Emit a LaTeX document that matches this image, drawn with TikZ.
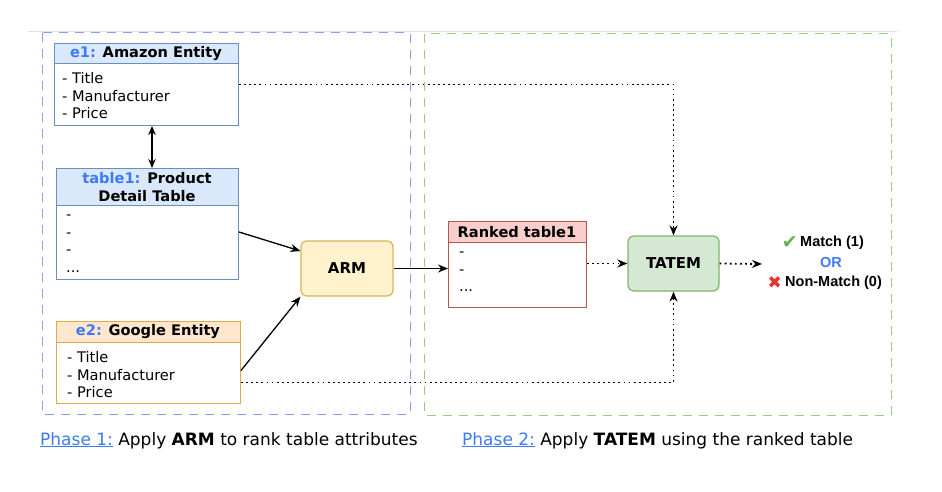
\documentclass[tikz,border=0pt]{standalone}
\usepackage{fontspec}
\setmainfont{DejaVu Sans}
\newfontfamily\arialf{Liberation Sans}
\usetikzlibrary{arrows.meta}
\definecolor{framblue}{HTML}{8C9CF5}
\definecolor{framgreen}{HTML}{97D077}
\definecolor{hblue}{HTML}{DAE8FC}
\definecolor{sblue}{HTML}{6C8EBF}
\definecolor{horange}{HTML}{FFE6CC}
\definecolor{sorange}{HTML}{E0A94A}
\definecolor{hred}{HTML}{F8CECC}
\definecolor{sred}{HTML}{B85450}
\definecolor{hgreen}{HTML}{D5E8D4}
\definecolor{sgreen}{HTML}{82B366}
\definecolor{hyellow}{HTML}{FFF2CC}
\definecolor{syellow}{HTML}{D6B656}
\definecolor{lblue}{HTML}{3D7BF5}
\definecolor{okgreen}{HTML}{6AB04C}
\definecolor{badred}{HTML}{E8312A}
\tikzset{
  frame/.style={line width=1pt, dash pattern=on 9pt off 7pt},
  ebox/.style={draw, line width=1pt, anchor=north west, inner sep=0pt},
  proc/.style={draw, line width=1.2pt, rounded corners=6pt, font=\bfseries\fontsize{15}{17}\selectfont, inner sep=0pt},
  hdr/.style={font=\bfseries\fontsize{14.6}{18}\selectfont, inner sep=0pt, align=center},
  body/.style={font=\fontsize{14.6}{17.7}\selectfont, anchor=north west, inner sep=0pt, align=left},
  arr/.style={line width=1.3pt, -{Stealth[length=10pt,width=8pt]}},
  darr/.style={line width=1.8pt, dash pattern=on 1.8pt off 3.3pt, -{Stealth[length=10pt,width=8pt]}},
  phase/.style={font=\fontsize{17}{20}\selectfont, anchor=base west, inner sep=0pt},
  outt/.style={font=\arialf\bfseries\fontsize{14.5}{17}\selectfont, inner sep=0pt}
}
\begin{document}
\begin{tikzpicture}[x=1pt,y=-1pt]
\useasboundingbox (0,0) rectangle (942,492);
% faint top line
\draw[gray!25, line width=0.8pt] (28,31) -- (897,31);
% frames
\draw[frame, framblue] (42,33) rectangle (410,414);
\draw[frame, framgreen] (424,34) rectangle (891,415);

% e1 box
\fill[hblue] (54,43) rectangle (238,64);
\node[ebox, sblue, minimum width=184pt, minimum height=82pt] (e1) at (54,43) {};
\draw[sblue, line width=1pt] (54,64) -- (238,64);
\node[hdr] (e1h) at (146,54) {\textcolor{lblue}{e1:} Amazon Entity};
\node[body] (e1b) at (62,71) {\strut- Title\\- Manufacturer\\- Price};

% table1 box
\fill[hblue] (56,168) rectangle (238,205);
\node[ebox, sblue, minimum width=182pt, minimum height=111pt] (t1) at (56,168) {};
\draw[sblue, line width=1pt] (56,205) -- (238,205);
\node[hdr] (t1h) at (147,187) {\textcolor{lblue}{table1:} Product\\Detail Table};
\node[body] (t1b) at (66,207) {\strut-\\-\\-\\...};

% e2 box
\fill[horange] (56,321) rectangle (240,342);
\node[ebox, sorange, minimum width=184pt, minimum height=82pt] (e2) at (56,321) {};
\draw[sorange, line width=1pt] (56,342) -- (240,342);
\node[hdr] (e2h) at (148,332) {\textcolor{lblue}{e2:} Google Entity};
\node[body] (e2b) at (67,350) {\strut- Title\\- Manufacturer\\- Price};

% ARM
\node[proc, draw=syellow, fill=hyellow, minimum width=92pt, minimum height=55pt] (arm) at (347,268.5) {ARM};

% Ranked table
\fill[hred] (448,221) rectangle (586,242);
\node[ebox, sred, minimum width=138pt, minimum height=86pt] (rt) at (448,221) {};
\draw[sred, line width=1pt] (448,242) -- (586,242);
\node[hdr] (rth) at (517,232) {Ranked table1};
\node[body] (rtb) at (459,244) {\strut-\\-\\...};

% TATEM
\node[proc, draw=sgreen, fill=hgreen, minimum width=91pt, minimum height=55pt] (tatem) at (673.5,263.5) {TATEM};

% output
\coordinate (outp) at (762,264);
\node[outt, anchor=west] (m1) at (800,243) {Match (1)};
\node[font=\fontsize{19}{19}\selectfont, text=okgreen, inner sep=0pt, anchor=east] (chk) at (798,243) {✔};
\node[outt, text=lblue] (or) at (831,263) {OR};
\node[outt, anchor=west] (m0) at (785,283) {Non-Match (0)};
\node[font=\fontsize{17}{17}\selectfont, text=badred, inner sep=0pt, anchor=east] (crs) at (782,283) {✖};

% connectors
\draw[line width=1.3pt, {Stealth[length=9pt,width=7.5pt]}-{Stealth[length=9pt,width=7.5pt]}] (e1.south -| 152,0) -- (t1.north -| 152,0);
\draw[arr] ([yshift=-8pt]t1.east) -- (arm.north west |- 0,251);
\draw[arr] ([yshift=-8pt]e2.east) -- (arm.south west);
\draw[arr] (arm.east) -- (rt.west |- arm.east);
\draw[darr] (rt.east |- tatem.west) -- (tatem.west);
\draw[darr] (tatem.east) -- (outp);
\draw[darr] (e1.east) -| (tatem.north);
\draw[darr] ([yshift=-20pt]e2.east) -| (tatem.south);

% phase captions
\node[phase] (p1) at (40,445) {\textcolor{lblue}{\underline{Phase 1:}} Apply \textbf{ARM} to rank table attributes};
\node[phase] (p2) at (462,445) {\textcolor{lblue}{\underline{Phase 2:}} Apply \textbf{TATEM} using the ranked table};
\end{tikzpicture}
\end{document}
